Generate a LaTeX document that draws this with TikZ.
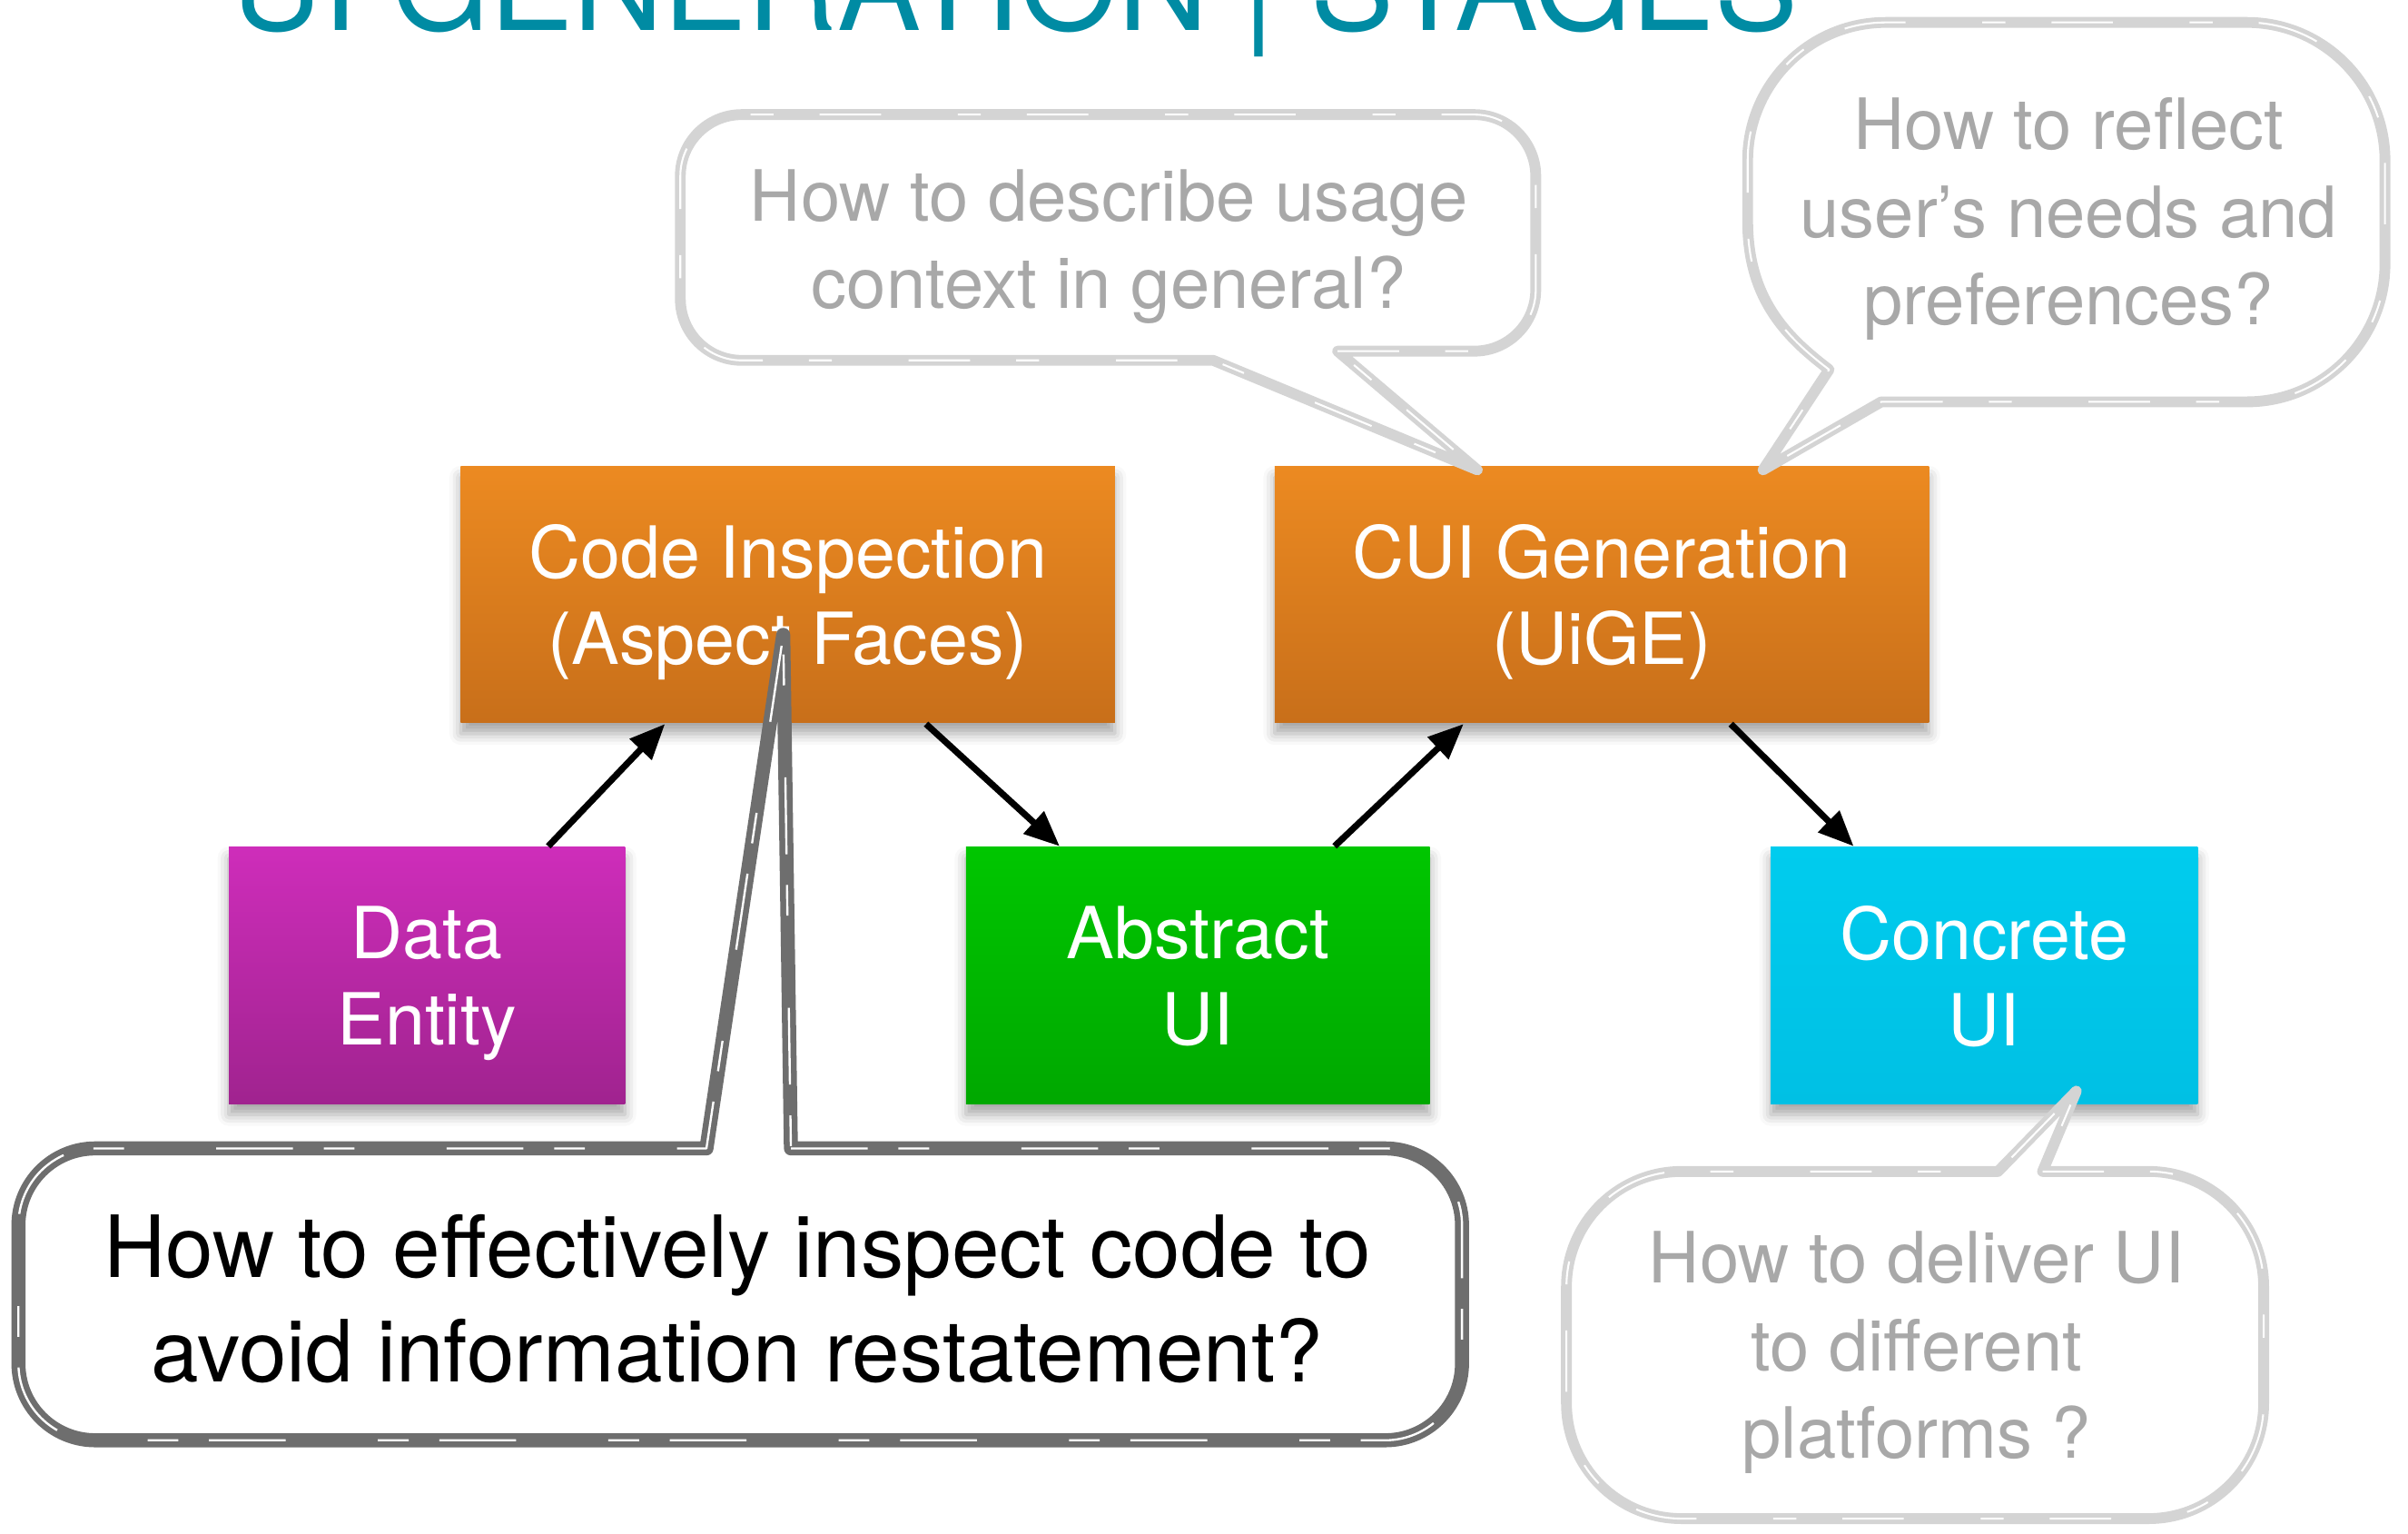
\documentclass[tikz,border=0pt]{standalone}
\usepackage{fontspec}
\setmainfont{TeX Gyre Heros}
\usepackage{tikz}
\usetikzlibrary{shapes,arrows.meta,positioning,shadows.blur}

\definecolor{titleteal}{RGB}{0,139,163}
\definecolor{orangetop}{RGB}{236,138,33}
\definecolor{orangebot}{RGB}{200,111,26}
\definecolor{magentatop}{RGB}{206,45,186}
\definecolor{magentabot}{RGB}{160,35,143}
\definecolor{greentop}{RGB}{0,198,0}
\definecolor{greenbot}{RGB}{0,168,0}
\definecolor{cyantop}{RGB}{0,204,238}
\definecolor{cyanbot}{RGB}{0,192,228}
\definecolor{bubblegray}{RGB}{212,212,212}
\definecolor{bubbledark}{RGB}{110,110,110}
\definecolor{askgray}{RGB}{168,168,168}

\begin{document}
\begin{tikzpicture}[
  stage/.style={rectangle, inner sep=0pt, minimum height=1.67cm, align=center,
    text=white, text depth=0pt, font={\fontsize{13.3}{16}\selectfont},
    blur shadow={shadow xshift=0pt, shadow yshift=-0.07cm, shadow opacity=35}},
  flow/.style={line width=1.2pt, -{Triangle[length=2.3mm,width=1.9mm]}},
  bubblelight/.style={draw=bubblegray, line width=2pt, fill=white, line join=round,
    postaction={draw=white, line width=0.35pt, dash pattern=on 4mm off 3mm on 1.5mm off 5mm}},
  bubbledeep/.style={draw=bubbledark, line width=2.6pt, fill=white, line join=round,
    postaction={draw=white, line width=0.4pt, dash pattern=on 5mm off 2mm on 2mm off 6mm}},
  asklight/.style={align=center, text=askgray, font={\fontsize{13.1}{16.2}\selectfont}},
  askdeep/.style={align=center, text=black, font={\fontsize{15.9}{19.3}\selectfont}}
]
\useasboundingbox (0,0) rectangle (15.68,9.986);
\clip (0,0) rectangle (15.68,9.986);

%Title
\node[anchor=base, text=titleteal, font={\fontsize{23.2}{26}\selectfont}] (title) at (6.61,9.79) {UI GENERATION | STAGES};

%Stages
\node[stage, minimum width=4.26cm, top color=orangetop, bottom color=orangebot] (code) at (5.13,6.115) {Code Inspection\\(Aspect Faces)};
\node[stage, minimum width=4.26cm, top color=orangetop, bottom color=orangebot] (cui) at (10.43,6.115) {CUI Generation\\(UiGE)};
\node[stage, minimum width=2.58cm, top color=magentatop, bottom color=magentabot] (data) at (2.78,3.635) {Data\\Entity};
\node[stage, minimum width=3.02cm, top color=greentop, bottom color=greenbot] (abstract) at (7.80,3.635) {Abstract\\UI};
\node[stage, minimum width=2.78cm, top color=cyantop, bottom color=cyanbot] (concrete) at (12.92,3.635) {Concrete\\UI};

%Flow
\draw[flow] ([xshift=0.79cm]data.north) -- ([xshift=-0.80cm]code.south);
\draw[flow] ([xshift=0.90cm]code.south) -- ([xshift=-0.90cm]abstract.north);
\draw[flow] ([xshift=0.89cm]abstract.north) -- ([xshift=-0.90cm]cui.south);
\draw[flow] ([xshift=0.84cm]cui.south) -- ([xshift=-0.85cm]concrete.north);

%Bubbles
\coordinate (tipcontext) at ([xshift=-0.81cm,yshift=-0.03cm]cui.north);
\coordinate (tipuser) at ([xshift=1.05cm,yshift=-0.03cm]cui.north);
\coordinate (tipcode) at ([xshift=-0.03cm,yshift=0.58cm]code.south);
\coordinate (tipdeliver) at ([xshift=0.60cm,yshift=0.09cm]concrete.south);

\draw[bubblelight] (8.71,7.70) [rounded corners=0.4cm] -- (10.00,7.70) -- (10.00,9.24) -- (4.43,9.24) -- (4.43,7.64) [sharp corners] -- (7.90,7.64) -- (tipcontext) -- cycle;
\draw[bubblelight] (12.25,7.37) [rounded corners=0.9cm] -- (15.53,7.37) -- (15.53,9.84) -- (11.38,9.84) [sharp corners] -- (11.38,8.55) .. controls (11.38,8.05) and (11.62,7.80) .. (11.91,7.58) -- (tipuser) -- cycle;
\draw[bubbledeep] (5.15,2.51) [rounded corners=0.5cm] -- (9.52,2.51) -- (9.52,0.61) -- (0.12,0.61) -- (0.12,2.51) [sharp corners] -- (4.60,2.51) -- (tipcode) -- cycle;
\draw[bubblelight] (13.30,2.36) [rounded corners=0.75cm] -- (14.74,2.36) -- (14.74,0.10) -- (10.20,0.10) -- (10.20,2.36) [sharp corners] -- (13.01,2.36) -- (tipdeliver) -- cycle;

%Questions
\node[asklight] (askcontext) at (7.22,8.38) {How to describe usage\\context in general?};
\node[asklight] (askuser) at (13.47,8.56) {How to reflect\\user’s needs and\\preferences?};
\node[askdeep] (askcode) at (4.80,1.53) {How to effectively inspect code to\\avoid information restatement?};
\node[asklight] (askdeliver) at (12.48,1.18) {How to deliver UI\\to different\\platforms ?};

\end{tikzpicture}
\end{document}
